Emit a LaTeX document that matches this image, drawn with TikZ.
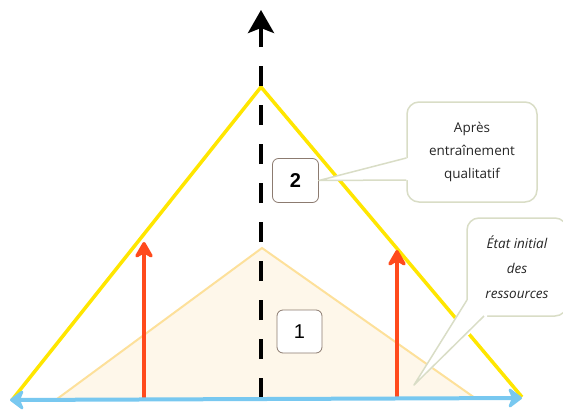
\documentclass[tikz,border=0pt]{standalone}
\usepackage{fontspec}
\setmainfont{Open Sans}
\newfontfamily\digitfont{Liberation Sans}
\usetikzlibrary{arrows.meta,positioning}
\definecolor{pyryellow}{HTML}{FFE600}
\definecolor{basecream}{HTML}{FEF7EA}
\definecolor{baseline}{HTML}{FDE09A}
\definecolor{skyblue}{HTML}{78C8F0}
\definecolor{growred}{HTML}{FF4A1C}
\definecolor{bubblegreen}{HTML}{D9DDC6}
\definecolor{boxbrown}{HTML}{8C7B70}

\begin{document}
\begin{tikzpicture}[x=1pt, y=-1pt,
    numbox/.style={rectangle, draw=boxbrown, line width=0.8pt, rounded corners=6pt,
                 fill=white, minimum width=46pt, minimum height=44pt,
                 font=\digitfont\fontsize{20}{20}\selectfont},
    bubble/.style={rectangle, draw=bubblegreen, line width=1.5pt, rounded corners=12pt,
                 fill=white, align=center, text=black!85, font=\fontsize{13.5}{23}\selectfont},
    bubbleedge/.style={draw=bubblegreen, line width=1.5pt, line join=round},
    axis/.style={line width=4pt, dash pattern=on 20pt off 19pt,
                 -{Stealth[length=23pt, width=26pt, inset=5pt]}},
    uparr/.style={draw=growred, line width=3.5pt,
                 -{Stealth[length=20pt, width=23pt, inset=7pt, round]}},
    basearr/.style={draw=skyblue, line width=4pt,
                 {Stealth[length=16pt, width=24pt, inset=5pt, round]}-{Stealth[length=16pt, width=24pt, inset=5pt, round]}},
]
    \useasboundingbox (0,0) rectangle (563,410);

    \coordinate (apex) at (261,87);
    \coordinate (bigL) at (12,400);
    \coordinate (bigR) at (522,397);
    \coordinate (smallTop) at (262,248);
    \coordinate (smallL) at (57,399);
    \coordinate (smallR) at (475,398);
    \coordinate (baseL) at (10,400);
    \coordinate (baseR) at (522,398);
    \coordinate (axisFoot) at (261,398);
    \coordinate (axisTip) at (261,10);
    \coordinate (footL) at (144,398);
    \coordinate (tipL) at (144,242);
    \coordinate (footR) at (397,398);
    \coordinate (tipR) at (397,250);

    \filldraw[fill=basecream, draw=baseline, line width=2pt] (smallL) -- (smallTop) -- (smallR);
    \draw[pyryellow, line width=3.5pt] (bigL) -- (apex) -- (bigR);

    \draw[uparr] (footL) -- (tipL);
    \draw[uparr] (footR) -- (tipR);
    \draw[axis] (axisFoot) -- (axisTip);
    \draw[basearr] (baseL) -- (baseR);

    \node[numbox, font=\digitfont\bfseries\fontsize{20}{20}\selectfont] (box2) at (295.5,180.5) {2};
    \node[numbox, minimum width=45pt, minimum height=43pt] (box1) at (299.5,331.5) {1};

    % bubbles
    \node[bubble, minimum width=130pt, minimum height=100pt] (callA) at (472,152)
        {Après\\entraînement\\qualitatif};
    \fill[white] ([xshift=2pt, yshift=-6pt]callA.west) -- (box2.east) -- ([xshift=2pt, yshift=-28pt]callA.west) -- cycle;
    \draw[bubbleedge] ([yshift=-6pt]callA.west) -- (box2.east) -- ([yshift=-28pt]callA.west);

    \node[bubble, minimum width=100pt, minimum height=98pt, font=\itshape\fontsize{13.5}{25}\selectfont] (callB) at (517,267)
        {État initial\\des\\ressources};
    \coordinate (ptrB) at (414,385);
    \coordinate (attB1) at (467,300);
    \coordinate (attB2) at (484,316);
    \fill[white] (ptrB) -- (466,300) -- (487,300) -- (487,318) -- cycle;
    \draw[bubbleedge] (attB1) -- (ptrB) -- (attB2);
\end{tikzpicture}
\end{document}
